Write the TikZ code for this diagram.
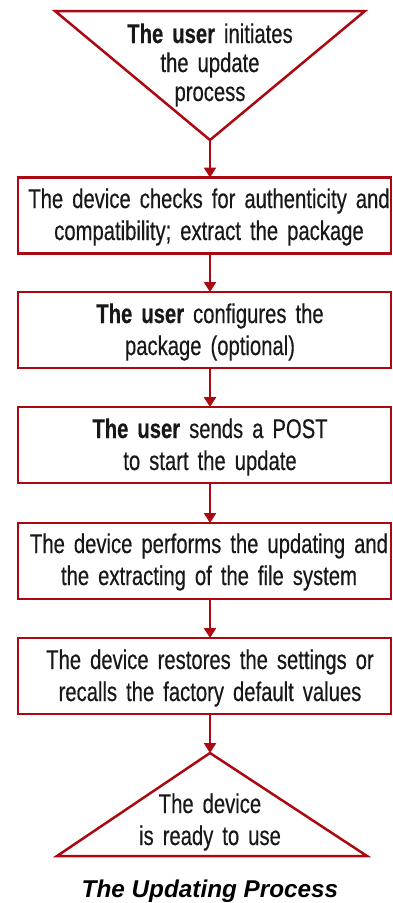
\documentclass[tikz,border=0pt]{standalone}
\usepackage{fontspec}
\setmainfont{Liberation Sans}[FakeStretch=0.75, WordSpace=0.8, FakeBold=0.4]
\newfontfamily\titlefont{Liberation Sans}
\usetikzlibrary{arrows.meta}
\definecolor{flowred}{RGB}{172,8,18}
\definecolor{flowtext}{RGB}{24,24,24}
\tikzset{
  flowbox/.style={draw=flowred, line width=2.5pt, rectangle, minimum width=373pt, minimum height=76pt, inner sep=0pt, outer sep=0pt},
  flowtri/.style={draw=flowred, line width=2.5pt, line join=miter},
  flowtxt/.style={anchor=base, text width=390pt, align=center, inner sep=0pt, text=flowtext, font=\fontsize{27}{32}\selectfont},
  flowarr/.style={draw=flowred, line width=2.5pt, -{Triangle[width=12pt,length=10pt]}},
}
\begin{document}
\begin{tikzpicture}[x=1pt,y=-1pt]
\useasboundingbox (0,0) rectangle (392,903);
% start triangle
\draw[flowtri] (55,11) -- (365,11) -- (210,140) -- cycle;
\coordinate (s) at (210,140);
\node[flowtxt, font=\fontsize{27}{29}\selectfont] (st) at (210,43) {\textbf{The user} initiates\\the update\\process};
% boxes
\node[flowbox] (b1) at (204.25,215.5) {};
\node[flowtxt] (t1) at (209,208) {The device checks for authenticity and\\compatibility; extract the package};
\node[flowbox] (b2) at (204.25,330) {};
\node[flowtxt] (t2) at (210,323) {\textbf{The user} configures the\\package (optional)};
\node[flowbox] (b3) at (204.25,445) {};
\node[flowtxt] (t3) at (210,438) {\textbf{The user} sends a POST\\to start the update};
\node[flowbox] (b4) at (204.25,561) {};
\node[flowtxt] (t4) at (209,553) {The device performs the updating and\\the extracting of the file system};
\node[flowbox] (b5) at (204.25,676) {};
\node[flowtxt] (t5) at (210,669) {The device restores the settings or\\recalls the factory default values};
% end triangle
\draw[flowtri] (210,753) -- (367,856) -- (57,856) -- cycle;
\coordinate (e) at (210,753);
\node[flowtxt] (et) at (210,813) {The device\\is ready to use};
% connectors
\draw[flowarr] (s) -- (s |- b1.north);
\draw[flowarr] (b1.south -| s) -- (b2.north -| s);
\draw[flowarr] (b2.south -| s) -- (b3.north -| s);
\draw[flowarr] (b3.south -| s) -- (b4.north -| s);
\draw[flowarr] (b4.south -| s) -- (b5.north -| s);
\draw[flowarr] (b5.south -| s) -- (e);
% title
\node[anchor=base, inner sep=0pt, text=black, font=\titlefont\fontsize{24.3}{28}\selectfont\bfseries\itshape] (title) at (210,897.5) {The Updating Process};
\end{tikzpicture}
\end{document}
